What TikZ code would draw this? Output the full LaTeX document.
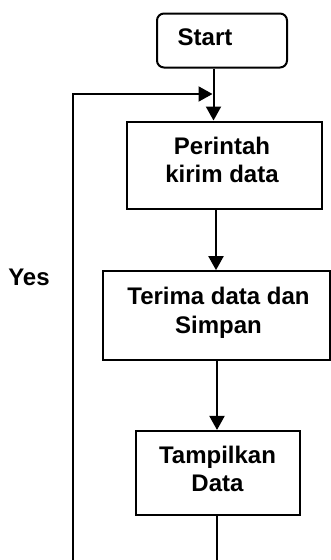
\documentclass[tikz,border=0pt]{standalone}
\usepackage{fontspec}
\setmainfont{Liberation Sans}
\usetikzlibrary{arrows.meta}
\begin{document}
\begin{tikzpicture}[x=1pt,y=-1pt,
  boxstyle/.style={draw, line width=2pt, inner sep=0pt},
  lbl/.style={inner sep=0pt, align=center, font=\fontsize{24}{28.5}\selectfont\bfseries},
  conn/.style={line width=2pt},
  arr/.style={conn, -{Triangle[length=14pt,width=15pt]}}]
\useasboundingbox (0,0) rectangle (331,560);

% boxes
\node[boxstyle, rounded corners=7pt, minimum width=130pt, minimum height=54pt] (start) at (222,40.5) {};
\node[boxstyle, minimum width=195pt, minimum height=87pt] (perintah) at (224,165) {};
\node[boxstyle, minimum width=227pt, minimum height=88.5pt] (terima) at (216.7,315.4) {};
\node[boxstyle, minimum width=163.7pt, minimum height=83.7pt] (tampil) at (218.2,472.8) {};

% texts
\node[lbl] (starttxt) at (205,37.5) {Start};
\node[lbl] (perintahtxt) at (222,160) {Perintah\\kirim data};
\node[lbl] (terimatxt) at (218.5,313) {Terima data dan\\Simpan};
\node[lbl] (tampiltxt) at (217.5,469) {Tampilkan\\Data};
\node[lbl, anchor=base] (yes) at (29,285) {Yes};

% connector x positions
\coordinate (xa) at (213.5,0);
\coordinate (xb) at (216,0);
\coordinate (xc) at (217,0);
\coordinate (bot1) at (73,560);
\coordinate (bot2) at (217,560);
\coordinate (loopin) at (212.5,94);

\draw[arr] (start.south -| xa) -- (perintah.north -| xa);
\draw[arr] (perintah.south -| xb) -- (terima.north -| xb);
\draw[arr] (terima.south -| xc) -- (tampil.north -| xc);
\draw[conn] (tampil.south -| xc) -- (bot2);
\draw[arr] (bot1) |- (loopin);
\end{tikzpicture}
\end{document}
